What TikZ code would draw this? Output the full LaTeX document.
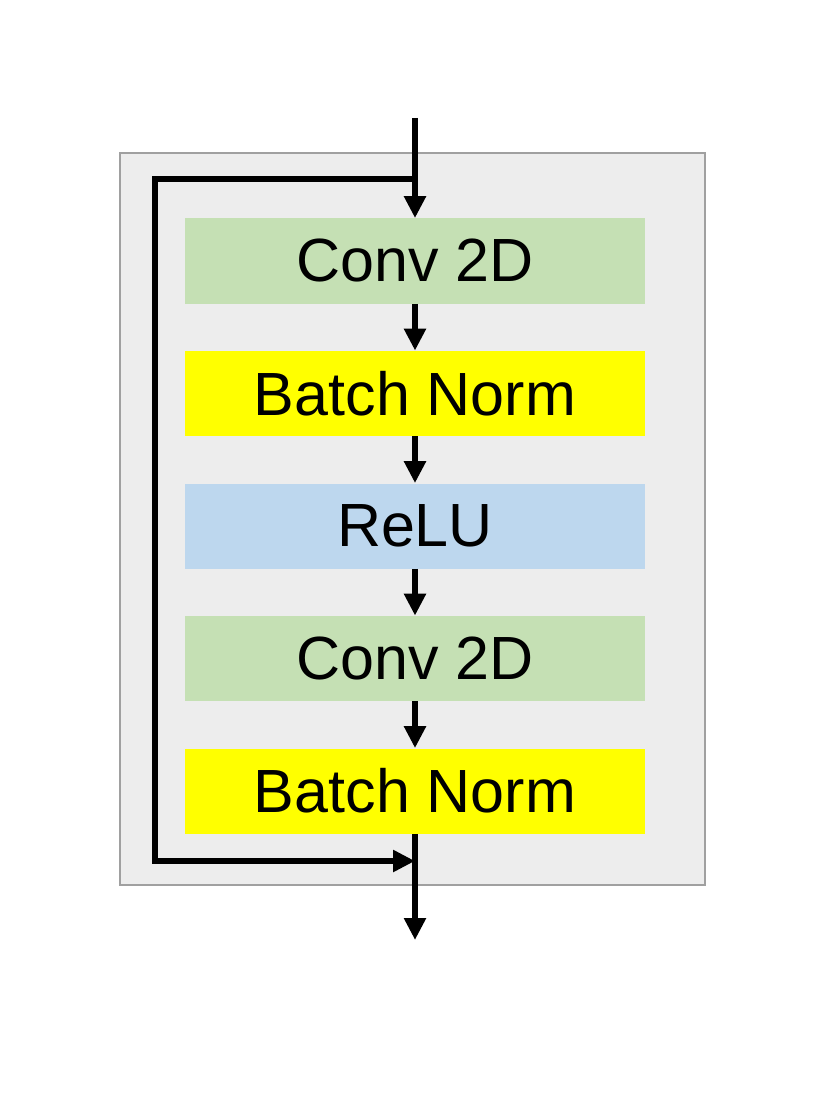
\documentclass[tikz,border=0pt]{standalone}
\usepackage{fontspec}
\setmainfont{Liberation Sans}
\usepackage{tikz}
\usetikzlibrary{shapes,arrows.meta}
\definecolor{convgreen}{HTML}{C5E0B4}
\definecolor{bnyellow}{HTML}{FFFF00}
\definecolor{relublue}{HTML}{BDD7EE}
\definecolor{blockgray}{HTML}{EDEDED}
\definecolor{framegray}{HTML}{A0A0A0}
\tikzstyle{layer} = [rectangle, minimum width=230pt, minimum height=42.5pt, inner sep=0pt, text centered, font=\fontsize{30.5}{36}\selectfont]
\tikzstyle{conv} = [layer, fill=convgreen]
\tikzstyle{bn} = [layer, fill=bnyellow]
\tikzstyle{relu} = [layer, fill=relublue]
\tikzstyle{flow} = [line width=2.8pt, -{Triangle[length=11pt,width=10.5pt]}]

\begin{document}
\begin{tikzpicture}[node distance=66.25pt, auto]
   \useasboundingbox (0,0) rectangle (415pt,-553.5pt);
   % residual block
   \draw[fill=blockgray, draw=framegray, line width=0.6pt] (60pt,-76.5pt) rectangle (352.5pt,-442.5pt);

   % nodes
   \node[conv] (c1) at (207.5pt,-130.5pt)    {Conv 2D};
   \node[bn] (b1) [below of=c1]              {Batch Norm};
   \node[relu] (r) [below of=b1]             {ReLU};
   \node[conv] (c2) [below of=r]             {Conv 2D};
   \node[bn] (b2) [below of=c2]              {Batch Norm};
   \coordinate (in) at (207.5pt,-59pt);
   \coordinate (split) at (207.5pt,-89.5pt);
   \coordinate (merge) at (207.5pt,-430.5pt);
   \coordinate (out) at (207.5pt,-470pt);

   % edges
   \draw[flow] (in) to (c1);
   \draw[flow] (c1) to (b1);
   \draw[flow] (b1) to (r);
   \draw[flow] (r) to (c2);
   \draw[flow] (c2) to (b2);
   \draw[flow] (b2) to (out);
   \draw[flow] (split) -- ++(-130pt,0) |- (merge);
\end{tikzpicture}
\end{document}
